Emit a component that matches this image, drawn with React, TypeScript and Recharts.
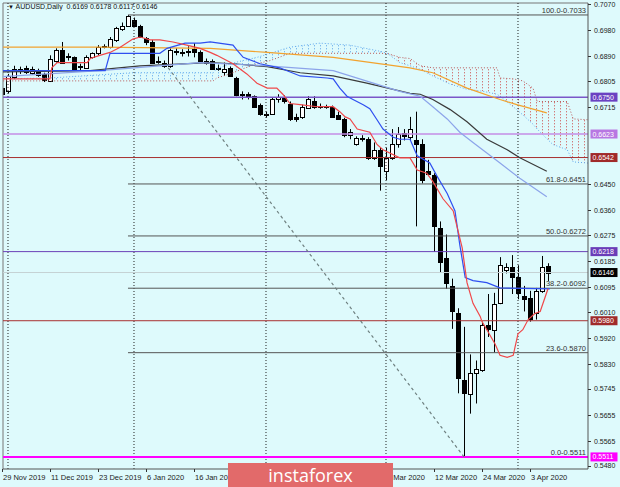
import React from 'react';
import { ComposedChart, Bar, Line, Area, XAxis, YAxis, ReferenceLine } from 'recharts';

// ---------- data ----------
const FIRST_INDEX = -1; // bar index of 29 Nov 2019
const opens = [
  0.6781, 0.6770, 0.6820, 0.6848, 0.6851, 0.6834, 0.6841, 0.6830, 0.6806, 0.6876,
  0.6911, 0.6890, 0.6887, 0.6853, 0.6851, 0.6887, 0.6901, 0.6922, 0.6922, 0.6947,
  0.6985, 0.6996, 0.7017, 0.6996, 0.6954, 0.6940, 0.6873, 0.6869, 0.6858, 0.6904,
  0.6906, 0.6904, 0.6915, 0.6904, 0.6873, 0.6876, 0.6848, 0.6837, 0.6851, 0.6816,
  0.6756, 0.6760, 0.6753, 0.6724, 0.6693, 0.6693, 0.6742, 0.6746, 0.6728, 0.6682,
  0.6682, 0.6714, 0.6735, 0.6721, 0.6717, 0.6717, 0.6689, 0.6675, 0.6619, 0.6587,
  0.6608, 0.6605, 0.6541, 0.6569, 0.6495, 0.6541, 0.6587, 0.6626, 0.6612, 0.6601,
  0.6587, 0.6495, 0.6481, 0.6301, 0.6195, 0.6100, 0.6005, 0.5776, 0.5727, 0.5801,
  0.5811, 0.5966, 0.5949, 0.6040, 0.6153, 0.6164, 0.6129, 0.6065, 0.6058, 0.6005,
  0.6083, 0.6169,
];
const highs = [
  0.6806, 0.6830, 0.6858, 0.6855, 0.6858, 0.6855, 0.6848, 0.6834, 0.6894, 0.6918,
  0.6940, 0.6901, 0.6890, 0.6865, 0.6894, 0.6904, 0.6929, 0.6932, 0.6957, 0.6992,
  0.7007, 0.7033, 0.7024, 0.6999, 0.6957, 0.6947, 0.6890, 0.6876, 0.6918, 0.6918,
  0.6915, 0.6925, 0.6936, 0.6911, 0.6883, 0.6880, 0.6862, 0.6869, 0.6855, 0.6820,
  0.6770, 0.6767, 0.6756, 0.6728, 0.6700, 0.6749, 0.6760, 0.6756, 0.6735, 0.6693,
  0.6724, 0.6753, 0.6753, 0.6728, 0.6724, 0.6721, 0.6700, 0.6679, 0.6640, 0.6615,
  0.6619, 0.6612, 0.6594, 0.6576, 0.6576, 0.6640, 0.6647, 0.6640, 0.6682, 0.6700,
  0.6605, 0.6534, 0.6488, 0.6322, 0.6277, 0.6125, 0.6023, 0.5959, 0.5864, 0.5843,
  0.5977, 0.6072, 0.6076, 0.6199, 0.6178, 0.6206, 0.6171, 0.6100, 0.6083, 0.6093,
  0.6203, 0.6178,
];
const lows = [
  0.6753, 0.6763, 0.6813, 0.6830, 0.6830, 0.6827, 0.6820, 0.6802, 0.6802, 0.6869,
  0.6865, 0.6876, 0.6841, 0.6841, 0.6848, 0.6883, 0.6894, 0.6918, 0.6918, 0.6940,
  0.6978, 0.6992, 0.6992, 0.6954, 0.6929, 0.6865, 0.6865, 0.6851, 0.6851, 0.6894,
  0.6890, 0.6890, 0.6887, 0.6869, 0.6862, 0.6844, 0.6841, 0.6823, 0.6820, 0.6753,
  0.6742, 0.6742, 0.6714, 0.6686, 0.6679, 0.6689, 0.6731, 0.6728, 0.6668, 0.6665,
  0.6675, 0.6710, 0.6710, 0.6710, 0.6710, 0.6679, 0.6672, 0.6612, 0.6605, 0.6583,
  0.6597, 0.6534, 0.6534, 0.6428, 0.6464, 0.6534, 0.6576, 0.6601, 0.6601, 0.6305,
  0.6453, 0.6478, 0.6217, 0.6146, 0.6090, 0.5952, 0.5730, 0.5511, 0.5660, 0.5695,
  0.5804, 0.5924, 0.5871, 0.6037, 0.6143, 0.6072, 0.6054, 0.6012, 0.5977, 0.5984,
  0.6076, 0.6117,
];
const closes = [
  0.6760, 0.6823, 0.6848, 0.6841, 0.6837, 0.6848, 0.6827, 0.6809, 0.6883, 0.6911,
  0.6869, 0.6887, 0.6848, 0.6856, 0.6887, 0.6901, 0.6922, 0.6925, 0.6950, 0.6989,
  0.6996, 0.7028, 0.6996, 0.6957, 0.6940, 0.6869, 0.6876, 0.6858, 0.6911, 0.6908,
  0.6904, 0.6908, 0.6904, 0.6873, 0.6869, 0.6848, 0.6851, 0.6848, 0.6823, 0.6756,
  0.6760, 0.6749, 0.6717, 0.6693, 0.6689, 0.6742, 0.6749, 0.6735, 0.6675, 0.6675,
  0.6717, 0.6742, 0.6717, 0.6717, 0.6719, 0.6682, 0.6675, 0.6619, 0.6629, 0.6608,
  0.6605, 0.6541, 0.6569, 0.6513, 0.6541, 0.6587, 0.6622, 0.6615, 0.6640, 0.6587,
  0.6464, 0.6485, 0.6305, 0.6181, 0.6111, 0.6012, 0.5783, 0.5730, 0.5801, 0.5815,
  0.5966, 0.5952, 0.6037, 0.6171, 0.6164, 0.6129, 0.6076, 0.6054, 0.5987, 0.6083,
  0.6164, 0.6146,
];

// indicator lines: [bar index, price]
const tenkan = [
  [-1.3, 0.6813], [7, 0.6813], [7.3, 0.6851], [8.2, 0.6869], [13.2, 0.6869], [13.7, 0.6883],
  [15.3, 0.6894], [17, 0.6904], [18.7, 0.6922], [20.8, 0.695], [22, 0.6957], [23.7, 0.6947],
  [25.3, 0.6947], [27.5, 0.694], [29.8, 0.6929], [32, 0.6918], [33.7, 0.6904], [34.8, 0.6894],
  [37.5, 0.6865], [39.8, 0.683], [41.5, 0.6798], [43.2, 0.6781], [44.8, 0.6781], [45.8, 0.676],
  [47, 0.6728], [48.7, 0.6724], [51.5, 0.6717], [54.2, 0.6717], [55.3, 0.67], [56.2, 0.6682],
  [57, 0.6675], [58.2, 0.664], [60.3, 0.6629], [61.5, 0.6587], [62.5, 0.6569], [65.3, 0.6541],
  [67, 0.6541], [68.2, 0.6499], [69.8, 0.6488], [70.8, 0.646], [72.5, 0.64], [74.2, 0.6358],
  [75.7, 0.6231], [76.5, 0.6111], [77.5, 0.604], [78.7, 0.5995], [79, 0.5977], [80, 0.5942],
  [81.2, 0.5899], [82, 0.5861], [83.2, 0.5854], [84.2, 0.5861], [85, 0.5935], [85.8, 0.5949],
  [86.7, 0.5984], [87.8, 0.6005], [88.7, 0.6012], [90, 0.609],
];
const kijun = [
  [-1.3, 0.6841], [16.2, 0.6841], [17, 0.6901], [25.3, 0.6901], [26.5, 0.6918], [29.5, 0.6936],
  [32, 0.6936], [33.7, 0.694], [37.5, 0.6929], [38.2, 0.6911], [39.2, 0.6887], [42, 0.6865],
  [45.3, 0.6851], [46.5, 0.6841], [48.7, 0.6823], [53.2, 0.6816], [54.2, 0.6813], [55.3, 0.6781],
  [56.5, 0.6753], [57.5, 0.6742], [59.2, 0.6724], [60.3, 0.671], [61.5, 0.6672], [62.5, 0.664],
  [64.2, 0.6612], [65.3, 0.6605], [67, 0.6605], [68.2, 0.6548], [70.3, 0.6523], [71.5, 0.6478],
  [73.2, 0.6418], [74.5, 0.6358], [75.3, 0.6241], [76.2, 0.6129], [77.5, 0.6118], [79.8, 0.6111],
  [82, 0.6093], [90.3, 0.609],
];
const maSlow = [
  [-1.3, 0.6922], [15.3, 0.6922], [33.7, 0.6918], [43.2, 0.6904], [54.2, 0.6887], [67, 0.6851],
  [70.8, 0.6834], [76.5, 0.6781], [82, 0.6742], [84.8, 0.6724], [89.8, 0.6696],
];
const maMid = [
  [-1.3, 0.6837], [13.7, 0.6841], [22, 0.6858], [33.7, 0.6869], [37.5, 0.6865], [43.2, 0.6855],
  [48.7, 0.6834], [54.2, 0.6823], [59.8, 0.6798], [67, 0.6763], [68.7, 0.676], [70.8, 0.6742],
  [73.7, 0.6707], [76.5, 0.6665], [79.8, 0.6605], [83.2, 0.6569], [85.3, 0.6541], [89.8, 0.6495],
];
const maFast = [
  [-1.3, 0.682], [15.3, 0.6841], [32, 0.6869], [43.2, 0.6858], [54.2, 0.6841], [65.3, 0.677],
  [68.7, 0.6753], [70.8, 0.6717], [73.2, 0.6675], [75.3, 0.6629], [77.5, 0.6594], [82, 0.6523],
  [85.3, 0.6471], [89.8, 0.6407],
];
// cloud: [bar index, span A, span B]
const cloudRows = [
  [-1.3, 0.6813, 0.6806], [7, 0.6816, 0.6806], [20.8, 0.6834, 0.6806], [34.2, 0.6834, 0.6806],
  [34.8, 0.6848, 0.6816], [37, 0.6865, 0.683], [39.2, 0.6876, 0.6848], [41.5, 0.6887, 0.6865],
  [43.7, 0.6901, 0.6876], [47, 0.6922, 0.6901], [52, 0.6936, 0.6901], [57, 0.6929, 0.6901],
  [62, 0.6908, 0.6901], [63.3, 0.69, 0.69], [65.3, 0.6869, 0.6887], [67, 0.6858, 0.6883],
  [68.7, 0.6846, 0.6858], [70.8, 0.6823, 0.6851], [73.7, 0.6795, 0.6851], [76.5, 0.6777, 0.6851],
  [79.2, 0.677, 0.6851], [81.5, 0.676, 0.6851], [82, 0.6753, 0.6816], [84.2, 0.6717, 0.6813],
  [85.8, 0.6689, 0.6806], [87.5, 0.6657, 0.6781], [88.2, 0.664, 0.6735], [89.2, 0.6619, 0.6735],
  [90.8, 0.6587, 0.6735], [93.2, 0.6569, 0.6735], [94.2, 0.6527, 0.6675], [96.7, 0.6523, 0.6672],
];
const cloudCross = 63.3;

// visible date labels (the ones under the logo banner are hidden in the reference)
const dateTicks = [-1, 7, 15, 23, 31, 63, 71, 79, 87];
const dateLabels = [
  '29 Nov 2019', '11 Dec 2019', '23 Dec 2019', '6 Jan 2020', '16 Jan 2020',
  '2 Mar 2020', '12 Mar 2020', '24 Mar 2020', '3 Apr 2020',
];
const priceTicks = [
  0.707, 0.698, 0.689, 0.6805, 0.6715, 0.645, 0.636, 0.6275, 0.6185, 0.6095, 0.601, 0.592,
  0.583, 0.5745, 0.5655, 0.5565, 0.548,
];
const levelValues = [0.675, 0.6623, 0.6542, 0.6218, 0.6146, 0.598, 0.5511];
const fibValues = [0.7033, 0.6451, 0.6272, 0.6092, 0.587, 0.5511];
const fibNames = ['100.0', '61.8', '50.0', '38.2', '23.6', '0.0'];
const fibStartIndex = 20;
const monthStarts = [0, 21, 43, 63, 85];
const trendFrom = [26.7, 0.6851];
const trendTo = [76, 0.5511];
const titleText = 'AUDUSD,Daily  0.6169 0.6178 0.6117 0.6146';

// ---------- styles ----------
const BG = '#DEFAFC';
const FONT = '"Liberation Sans", Arial, sans-serif';
const levelStyles = [
  { line: '#7B56C8', box: '#6B42C2', w: 1.5 },
  { line: '#C48CE6', box: '#B877E2', w: 1.5 },
  { line: '#A83030', box: '#A02A2A', w: 1 },
  { line: '#6A40B8', box: '#6A3DB8', w: 1 },
  { line: '#C5D2D4', box: '#000000', w: 1 },
  { line: '#A83030', box: '#A02A2A', w: 1 },
  { line: '#FF00FF', box: '#FF00FF', w: 2 },
];
const X_DOMAIN: [number, number] = [-0.8333, 96.6667];
const Y_DOMAIN: [number, number] = [0.54694, 0.70742];

const candles = opens.map((o, k) => ({ i: k + FIRST_INDEX, o, h: highs[k], l: lows[k], c: closes[k] }));
const toPts = (arr: number[][]) => arr.map(([i, v]) => ({ i, v }));
const cloud = cloudRows.map(([i, a, b]) => ({ i, a, b }));
const cloudBull = cloud.filter((d) => d.i <= cloudCross).map((d) => ({ i: d.i, r: [d.b, d.a] }));
const cloudBear = cloud.filter((d) => d.i >= cloudCross).map((d) => ({ i: d.i, r: [d.a, d.b] }));

const Candle = (p: any) => {
  const { x, y, width, height, payload } = p;
  if (x == null || y == null) return null;
  const top = Math.min(y, y + height);
  const bot = Math.max(y, y + height);
  const span = payload.h - payload.l;
  const k = span > 0 ? (bot - top) / span : 0;
  const yOf = (v: number) => top + (payload.h - v) * k;
  const cx = Math.round(x + width / 2);
  const yo = yOf(payload.o);
  const yc = yOf(payload.c);
  const bt = Math.round(Math.min(yo, yc));
  const bb = Math.round(Math.max(yo, yc));
  const bull = payload.c >= payload.o;
  return (
    <g>
      <line x1={cx + 0.5} x2={cx + 0.5} y1={top} y2={bot} stroke="#000" strokeWidth={1} />
      <rect x={cx - 1.5} y={bt + 0.5} width={4} height={Math.max(1, bb - bt)} fill={bull ? '#fff' : '#000'} stroke="#000" strokeWidth={1} />
    </g>
  );
};

const PriceTick = (props: any) => {
  const { x, y, payload } = props;
  const v = payload.value as number;
  const li = levelValues.indexOf(v);
  const label = v.toFixed(4);
  if (li >= 0) {
    return (
      <g>
        <rect x={x + 2.5} y={y - 4.5} width={27} height={9} fill={levelStyles[li].box} />
        <text x={x + 4.5} y={y + 2.5} fontSize={7} fill="#fff" fontFamily={FONT} textAnchor="start">{label}</text>
      </g>
    );
  }
  return (
    <g>
      <line x1={x} x2={x + 3} y1={Math.round(y) + 0.5} y2={Math.round(y) + 0.5} stroke="#333" />
      <text x={x + 6} y={y + 2.5} fontSize={7} fill="#222" fontFamily={FONT} textAnchor="start">{label}</text>
    </g>
  );
};

const DateTick = (props: any) => {
  const { x, y, payload } = props;
  const k = dateTicks.indexOf(payload.value);
  return (
    <g>
      <line x1={Math.round(x) + 0.5} x2={Math.round(x) + 0.5} y1={y} y2={y + 3} stroke="#333" />
      <text x={x + 1} y={y + 11} fontSize={7.5} fill="#222" fontFamily={FONT} textAnchor="start">{dateLabels[k]}</text>
    </g>
  );
};

export default function App() {
  return (
    <div style={{ position: 'absolute', left: 0, top: 0, width: 620, height: 487, background: BG, overflow: 'hidden' }}>
      <ComposedChart width={620} height={487} data={candles} margin={{ top: 3, right: 0, left: 3, bottom: 0 }}>
        <defs>
          <pattern id="hatchBlue" x="2" y="0" width="6" height="3" patternUnits="userSpaceOnUse">
            <rect x="0" y="0" width="1" height="1.4" fill="#7DB9EE" />
          </pattern>
          <pattern id="hatchRed" x="2" y="0" width="6" height="3" patternUnits="userSpaceOnUse">
            <rect x="0" y="0" width="1" height="1.4" fill="#D07A7A" />
          </pattern>
        </defs>
        <XAxis
          dataKey="i"
          type="number"
          domain={X_DOMAIN}
          allowDataOverflow
          ticks={dateTicks}
          interval={0}
          height={18}
          axisLine={{ stroke: '#555' }}
          tickLine={false}
          tickSize={0}
          tickMargin={0}
          tick={<DateTick />}
        />
        <YAxis
          orientation="right"
          type="number"
          domain={Y_DOMAIN}
          allowDataOverflow
          ticks={[...priceTicks, ...levelValues]}
          interval={0}
          width={32}
          axisLine={{ stroke: '#555' }}
          tickLine={false}
          tickSize={0}
          tickMargin={0}
          tick={<PriceTick />}
        />
        <ReferenceLine x={X_DOMAIN[0]} stroke="#777" ifOverflow="visible" />
        <ReferenceLine y={Y_DOMAIN[1]} stroke="#777" ifOverflow="visible" />
        {monthStarts.map((m) => (
          <ReferenceLine key={'m' + m} x={m} stroke="#222" strokeDasharray="1 2" ifOverflow="visible" />
        ))}
        <Area data={cloudBull} dataKey="r" type="linear" stroke="none" fill="url(#hatchBlue)" fillOpacity={1} isAnimationActive={false} />
        <Area data={cloudBear} dataKey="r" type="linear" stroke="none" fill="url(#hatchRed)" fillOpacity={1} isAnimationActive={false} />
        <Line data={cloud} dataKey="a" type="linear" stroke="#5FA8EE" strokeDasharray="1 2" strokeWidth={1} dot={false} activeDot={false} isAnimationActive={false} />
        <Line data={cloud} dataKey="b" type="linear" stroke="#B85858" strokeDasharray="1 2" strokeWidth={1} dot={false} activeDot={false} isAnimationActive={false} />
        {levelValues.map((v, k) => (
          <ReferenceLine key={'l' + k} y={v} stroke={levelStyles[k].line} strokeWidth={levelStyles[k].w} ifOverflow="visible" />
        ))}
        {fibValues.map((v, k) => (
          <ReferenceLine
            key={'f' + k}
            segment={[{ x: fibStartIndex, y: v }, { x: X_DOMAIN[1], y: v }]}
            stroke={k === 5 ? '#FF00FF' : '#555'}
            strokeWidth={k === 5 ? 2 : 1}
            ifOverflow="visible"
            label={{ value: `${fibNames[k]}-${v.toFixed(4)}`, position: 'insideBottomRight', offset: 2, fontSize: 7.5, fill: '#333', fontFamily: FONT }}
          />
        ))}
        <ReferenceLine
          segment={[{ x: trendFrom[0], y: trendFrom[1] }, { x: trendTo[0], y: trendTo[1] }]}
          stroke="#6F8080"
          strokeWidth={1.2}
          strokeDasharray="3 3"
          ifOverflow="visible"
        />
        <Line data={toPts(maSlow)} dataKey="v" type="linear" stroke="#F2A22E" strokeWidth={1.2} dot={false} activeDot={false} isAnimationActive={false} />
        <Line data={toPts(maMid)} dataKey="v" type="linear" stroke="#3A3A3A" strokeWidth={1.2} dot={false} activeDot={false} isAnimationActive={false} />
        <Line data={toPts(maFast)} dataKey="v" type="linear" stroke="#8CA4EA" strokeWidth={1.2} dot={false} activeDot={false} isAnimationActive={false} />
        <Line data={toPts(kijun)} dataKey="v" type="linear" stroke="#2F4FF0" strokeWidth={1.2} dot={false} activeDot={false} isAnimationActive={false} />
        <Line data={toPts(tenkan)} dataKey="v" type="linear" stroke="#F0484A" strokeWidth={1.2} dot={false} activeDot={false} isAnimationActive={false} />
        <Bar dataKey={(d: any) => [d.l, d.h]} barSize={4} shape={(p: any) => <Candle {...p} />} isAnimationActive={false} />
      </ComposedChart>
      <div style={{ position: 'absolute', left: 8, top: 3, fontFamily: FONT, fontSize: 7, color: '#111', whiteSpace: 'pre' }}>
        <span style={{ fontSize: 6 }}>▼ </span>{titleText}
      </div>
      <div style={{ position: 'absolute', left: 228, top: 463, width: 165, height: 24, background: '#E26A6A', color: '#fff', fontFamily: '"Open Sans", Roboto, sans-serif', fontSize: 18, lineHeight: '24px', textAlign: 'center' }}>
        instaforex
      </div>
    </div>
  );
}
